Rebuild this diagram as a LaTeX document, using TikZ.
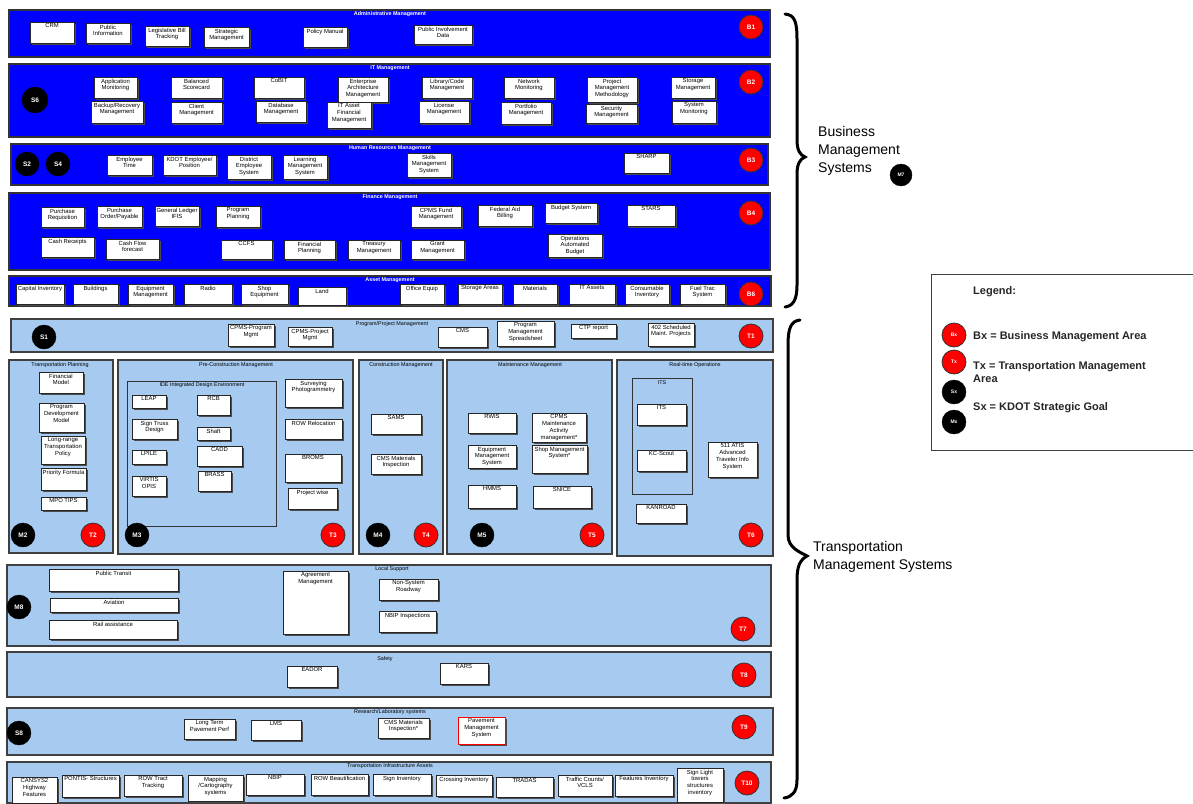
\documentclass[tikz,border=0pt]{standalone}
\usepackage{fontspec}
\setmainfont{Liberation Sans}
\definecolor{bbl}{RGB}{0,0,255}
\definecolor{lbl}{RGB}{166,202,240}
\definecolor{rd}{RGB}{255,0,0}
\tikzset{
 sbox/.style={draw=black!85, fill=white, line width=0.8pt, inner sep=0pt},
 rbox/.style={sbox, draw=red},
 shad/.style={fill=black!70},
 btxt/.style={font=\fontsize{5.9}{6.8}\selectfont, align=center, inner sep=2pt, anchor=north},
 bpanel/.style={draw=black!80, fill=bbl, line width=1.2pt},
 lpanel/.style={draw=black!75, fill=lbl, line width=1.2pt},
 gframe/.style={draw=black!80, line width=0.9pt},
 wtitle/.style={font=\fontsize{5.4}{6}\selectfont\bfseries, text=white, inner sep=0pt},
 ktitle/.style={font=\fontsize{5.4}{6}\selectfont, text=black, inner sep=0pt},
 rcirc/.style={circle, fill=rd, draw=black!80, line width=0.8pt, minimum size=24pt, inner sep=0pt,
   font=\fontsize{6.5}{7}\selectfont\bfseries, text=white},
 kcirc/.style={circle, fill=black, draw=black, minimum size=24pt, inner sep=0pt,
   font=\fontsize{6.5}{7}\selectfont\bfseries, text=white},
 bigtxt/.style={font=\fontsize{14}{18}\selectfont, align=left, anchor=west, inner sep=0pt},
 legtxt/.style={font=\fontsize{11}{13}\selectfont\bfseries, align=left, anchor=west, inner sep=0pt, text=black!85},
 bracepath/.style={line width=3pt, line cap=round},
}
\newcommand{\sysbox}[7][sbox]{%
 \fill[shad] ({#3+1.6},{#4+1.6}) rectangle ({#5+1.6},{#6+1.6});
 \node[#1, minimum width={#5-#3}, minimum height={#6-#4}] (#2) at ({(#3+#5)/2},{(#4+#6)/2}) {};
 \node[btxt] (#2t) at (#2.north) {#7};}
\begin{document}
\begin{tikzpicture}[x=1pt,y=-1pt]
\useasboundingbox (0,0) rectangle (1193,803);
% ---------------- Business rows
\draw[bpanel] (9,10) rectangle (770,57);
\node[wtitle] (tB1) at (390,14) {Administrative Management};
\draw[bpanel] (9,64) rectangle (770,137);
\node[wtitle] (tB2) at (390,68) {IT Management};
\draw[bpanel] (11,144) rectangle (768,185);
\node[wtitle] (tB3) at (390,148) {Human Resources Management};
\draw[bpanel] (9,193) rectangle (770,270);
\node[wtitle] (tB4) at (390,197) {Finance Management};
\draw[bpanel] (9,276) rectangle (771,306);
\node[wtitle] (tB6) at (390,280) {Asset Management};
% B1
\sysbox{crm}{30}{22}{74}{43}{CRM}
\sysbox{pinf}{86}{23}{130}{43}{Public\\Information}
\sysbox{lbt}{145}{26}{189}{46}{Legislative Bill\\Tracking}
\sysbox{stm}{204}{27}{249}{47}{Strategic\\Management}
\sysbox{polm}{303}{27}{347}{47}{Policy Manual}
\sysbox{pid}{414}{25}{472}{44}{Public Involvement\\Data}
% B2
\sysbox{appm}{94}{77}{137}{98}{Application\\Monitoring}
\sysbox{bkr}{91}{101}{143}{123}{Backup/Recovery\\Management}
\sysbox{bsc}{171}{77}{222}{98}{Balanced\\Scorecard}
\sysbox{clm}{171}{102}{222}{123}{Client\\Management}
\sysbox{cob}{254}{77}{304}{98}{CoBIT}
\sysbox{dbm}{256}{101}{306}{122}{Database\\Management}
\sysbox{eam}{338}{77}{388}{102}{Enterprise\\Architecture\\Management}
\sysbox{itaf}{327}{102}{371}{128}{IT Asset\\Financial\\Management}
\sysbox{lcm}{422}{77}{472}{98}{Library/Code\\Management}
\sysbox{licm}{419}{101}{469}{123}{License\\Management}
\sysbox{netm}{504}{77}{554}{98}{Network\\Monitoring}
\sysbox{pfm}{501}{102}{551}{124}{Portfolio\\Management}
\sysbox{pmm}{587}{77}{637}{102}{Project\\Management\\Methodology}
\sysbox{secm}{586}{104}{637}{123}{Security\\Management}
\sysbox{stgm}{671}{77}{715}{98}{Storage\\Management}
\sysbox{sysm}{672}{101}{716}{123}{System\\Monitoring}
% B3
\sysbox{empt}{107}{155}{152}{175}{Employee\\Time}
\sysbox{kep}{163}{155}{216}{175}{KDOT Employee/\\Position}
\sysbox{des}{227}{155}{271}{179}{District\\Employee\\System}
\sysbox{lms}{283}{155}{327}{179}{Learning\\Management\\System}
\sysbox{skm}{407}{153}{451}{177}{Skills\\Management\\System}
\sysbox{sharp}{624}{153}{669}{173}{SHARP}
% B4
\sysbox{preq}{41}{207}{84}{227}{Purchase\\Requisition}
\sysbox{pop}{97}{206}{142}{227}{Purchase\\Order/Payable}
\sysbox{gl}{155}{206}{199}{226}{General Ledger\\IFIS}
\sysbox{prp}{216}{206}{260}{227}{Program\\Planning}
\sysbox{cashr}{41}{237}{94}{257}{Cash Receipts}
\sysbox{cashf}{106}{239}{159}{259}{Cash Flow\\forecast}
\sysbox{ccfs}{221}{240}{272}{259}{CCFS}
\sysbox{finp}{284}{240}{335}{259}{Financial\\Planning}
\sysbox{trm}{348}{240}{400}{259}{Treasury\\Management}
\sysbox{grm}{411}{240}{464}{259}{Grant\\Management}
\sysbox{cpf}{411}{206}{461}{227}{CPMS Fund\\Management}
\sysbox{fab}{478}{205}{532}{226}{Federal Aid\\Billing}
\sysbox{bud}{545}{203}{597}{223}{Budget System}
\sysbox{stars}{627}{205}{675}{226}{STARS}
\sysbox{oab}{548}{234}{602}{257}{Operations\\Automated\\Budget}
% B6
\sysbox{capi}{16}{284}{64}{304}{Capital Inventory}
\sysbox{bldg}{73}{284}{118}{304}{Buildings}
\sysbox{eqm}{128}{284}{173}{304}{Equipment\\Management}
\sysbox{radio}{184}{284}{232}{304}{Radio}
\sysbox{shopeq}{241}{284}{288}{304}{Shop\\Equipment}
\sysbox{land}{298}{287}{346}{305}{Land}
\sysbox{offe}{400}{284}{444}{304}{Office Equip}
\sysbox{stoa}{458}{284}{502}{304}{Storage Areas}
\sysbox{mat}{513}{284}{557}{304}{Materials}
\sysbox{ita}{569}{284}{615}{304}{IT Assets}
\sysbox{coni}{625}{284}{669}{304}{Consumable\\Inventory}
\sysbox{fuel}{680}{284}{725}{304}{Fuel Trac\\System}
% ---------------- Transportation rows
\draw[lpanel] (11,319) rectangle (773,352);
\node[ktitle] (tT1) at (392,324) {Program/Project Management};
\draw[lpanel] (9,360) rectangle (113,553);
\node[ktitle] (tT2) at (60,365) {Transportation Planning};
\draw[lpanel] (118,360) rectangle (353,554);
\node[ktitle] (tT3) at (236,365) {Pre-Construction Management};
\draw[gframe] (127,381) rectangle (276,526);
\node[ktitle] (tIDE) at (202,385) {IDE Integrated Design Environment};
\draw[lpanel] (359,360) rectangle (443,554);
\node[ktitle] (tT4) at (401,365) {Construction Management};
\draw[lpanel] (447,360) rectangle (612,554);
\node[ktitle] (tT5) at (530,365) {Maintenance Management};
\draw[lpanel] (617,360) rectangle (773,556);
\node[ktitle] (tT6) at (695,365) {Real-time Operations};
\draw[gframe] (632,378) rectangle (692,494);
\node[ktitle] (tITS) at (662,383) {ITS};
\draw[lpanel] (7,565) rectangle (771,646);
\node[ktitle] (tT7) at (392,569) {Local Support};
\draw[lpanel] (7,652) rectangle (771,697);
\node[ktitle] (tT8) at (385,659) {Safety};
\draw[lpanel] (7,708) rectangle (773,755);
\node[ktitle] (tT9) at (390,712) {Research/Laboratory systems};
\draw[lpanel] (7,762) rectangle (771,803);
\node[ktitle] (tT10) at (390,766) {Transportation Infrastructure Assets};
% T1
\sysbox{cpprog}{228}{324}{274}{346}{CPMS-Program\\Mgmt}
\sysbox{cpproj}{288}{327}{332}{346}{CPMS-Project\\Mgmt}
\sysbox{cms}{438}{327}{487}{347}{CMS}
\sysbox{pms}{497}{321}{554}{346}{Program\\Management\\Spreadsheet}
\sysbox{ctp}{571}{324}{616}{338}{CTP report}
\sysbox{sched}{648}{323}{694}{346}{402 Scheduled\\Maint. Projects}
% Transportation planning
\sysbox{finmod}{39}{372}{83}{393}{Financial\\Model}
\sysbox{pdm}{39}{403}{84}{432}{Program\\Development\\Model}
\sysbox{lrtp}{41}{436}{85}{464}{Long-range\\Transportation\\Policy}
\sysbox{prif}{41}{468}{86}{490}{Priority Formula}
\sysbox{mpo}{41}{497}{86}{510}{MPO TIPS}
% Pre-construction
\sysbox{leap}{132}{395}{166}{408}{LEAP}
\sysbox{sign}{132}{419}{177}{439}{Sign Truss\\Design}
\sysbox{lpile}{132}{450}{166}{464}{LPILE}
\sysbox{virt}{132}{476}{166}{496}{VIRTIS\\OPIS}
\sysbox{rcb}{197}{395}{230}{415}{RCB}
\sysbox{shaft}{197}{427}{230}{440}{Shaft}
\sysbox{cadd}{197}{446}{242}{466}{CADD}
\sysbox{brass}{198}{471}{231}{491}{BRASS}
\sysbox{surv}{285}{379}{342}{407}{Surveying\\Photogrammetry}
\sysbox{rowr}{285}{419}{342}{439}{ROW Relocation}
\sysbox{broms}{285}{454}{341}{482}{BROMS}
\sysbox{pwise}{288}{488}{337}{509}{Project wise}
% Construction
\sysbox{sams}{371}{414}{421}{434}{SAMS}
\sysbox{cmsmi}{371}{454}{421}{474}{CMS Materials\\Inspection}
% Maintenance
\sysbox{rwis}{468}{413}{516}{433}{RWIS}
\sysbox{cpmsma}{532}{413}{586}{442}{CPMS\\Maintenance\\Activity\\management*}
\sysbox{ems}{468}{445}{516}{468}{Equipment\\Management\\System}
\sysbox{shopm}{532}{445}{587}{473}{Shop Management\\System*}
\sysbox{hmms}{468}{485}{516}{508}{HMMS}
\sysbox{snice}{533}{486}{591}{508}{SNICE}
% Real-time
\sysbox{its}{637}{404}{686}{425}{ITS}
\sysbox{kcs}{637}{450}{686}{471}{KC-Scout}
\sysbox{kanr}{636}{504}{686}{523}{KANROAD}
\sysbox{atis}{708}{442}{757}{477}{511 ATIS\\Advanced\\Traveler Info\\System}
% Local support
\sysbox{ptr}{49}{569}{178}{591}{Public Transit}
\sysbox{avi}{50}{598}{178}{612}{Aviation}
\sysbox{rail}{49}{620}{177}{639}{Rail assistance}
\sysbox{agm}{283}{571}{348}{634}{Agreement\\Management}
\sysbox{nsr}{379}{579}{438}{600}{Non-System\\Roadway}
\sysbox{nbipi}{379}{611}{436}{632}{NBIP Inspections}
% Safety
\sysbox{eador}{287}{666}{337}{687}{EADOR}
\sysbox{kars}{440}{663}{488}{684}{KARS}
% Research
\sysbox{ltpp}{184}{719}{235}{739}{Long Term\\Pavement Perf}
\sysbox{lmsr}{251}{720}{301}{740}{LMS}
\sysbox{cmsr}{378}{718}{429}{738}{CMS Materials\\Inspection*}
\sysbox[rbox]{pavm}{458}{717}{505}{744}{Pavement\\Management\\System}
% Assets
\sysbox{cansys}{12}{777}{57}{803}{CANSYS2\\Highway\\Features}
\sysbox{pontis}{62}{775}{119}{797}{PONTIS- Structures}
\sysbox{rowt}{124}{775}{182}{796}{ROW Tract\\Tracking}
\sysbox{mapc}{188}{775}{243}{801}{Mapping\\/Cartography\\systems}
\sysbox{nbip}{246}{774}{304}{795}{NBIP}
\sysbox{rowb}{311}{774}{368}{795}{ROW Beautification}
\sysbox{signi}{373}{774}{431}{795}{Sign Inventory}
\sysbox{crossi}{436}{775}{492}{796}{Crossing Inventory}
\sysbox{tradas}{496}{777}{553}{797}{TRADAS}
\sysbox{tcv}{558}{775}{612}{796}{Traffic Counts/\\VCLS}
\sysbox{feati}{615}{775}{673}{796}{Features Inventory}
\sysbox{slt}{677}{768}{723}{802}{Sign Light\\towers\\structures\\inventory}
% ---------------- circles
\node[rcirc] (B1) at (751,27) {B1};
\node[rcirc] (B2) at (751,82) {B2};
\node[rcirc] (B3) at (751,160) {B3};
\node[rcirc] (B4) at (751,213) {B4};
\node[rcirc] (B6) at (751,294) {B6};
\node[rcirc] (T1) at (751,336) {T1};
\node[rcirc] (T2) at (93,535) {T2};
\node[rcirc] (T3) at (333,535) {T3};
\node[rcirc] (T4) at (426,535) {T4};
\node[rcirc] (T5) at (592,535) {T5};
\node[rcirc] (T6) at (751,535) {T6};
\node[rcirc] (T7) at (743,629) {T7};
\node[rcirc] (T8) at (744,675) {T8};
\node[rcirc] (T9) at (744,727) {T9};
\node[rcirc] (T10) at (747,783) {T10};
\node[kcirc, minimum size=26pt] (S6) at (35,100) {S6};
\node[kcirc] (S2) at (27,164) {S2};
\node[kcirc] (S4) at (58,164) {S4};
\node[kcirc] (S1) at (44,337) {S1};
\node[kcirc] (M2) at (23,535) {M2};
\node[kcirc] (M3) at (137,535) {M3};
\node[kcirc] (M4) at (378,535) {M4};
\node[kcirc] (M5) at (482,535) {M5};
\node[kcirc] (M8) at (19,607) {M8};
\node[kcirc] (S8) at (19,733) {S8};
\node[kcirc, minimum size=22pt, font=\fontsize{5}{6}\selectfont\bfseries] (M7) at (901,175) {M7};
% ---------------- braces and labels
\draw[bracepath] (785,14) .. controls (795,15) and (797,22) .. (797,40) -- (797,140)
  .. controls (797,150) and (800,155) .. (805,157) .. controls (800,159) and (797,164) .. (797,174)
  -- (797,285) .. controls (797,300) and (793,306) .. (785,307);
\draw[bracepath] (800,320) .. controls (791,321) and (788,328) .. (788,345) -- (788,535)
  .. controls (788,548) and (800,552) .. (807,556) .. controls (800,560) and (797,566) .. (797,580)
  -- (797,780) .. controls (797,792) and (792,797) .. (784,798);
\node[bigtxt] (bms) at (818,151) {Business\\Management\\Systems};
\node[bigtxt] (tms) at (813,557) {Transportation\\Management Systems};
% ---------------- legend
\draw[line width=1pt, draw=black!75] (1193,274) -- (931,274) -- (931,450) -- (1193,450);
\node[legtxt] (legh) at (973,292) {Legend:};
\node[rcirc, font=\fontsize{5}{6}\selectfont\bfseries] (LB) at (954,335) {Bx};
\node[rcirc, font=\fontsize{5}{6}\selectfont\bfseries] (LT) at (954,362) {Tx};
\node[kcirc, font=\fontsize{5}{6}\selectfont\bfseries] (LS) at (954,392) {Sx};
\node[kcirc, font=\fontsize{5}{6}\selectfont\bfseries] (LM) at (954,422) {Mx};
\node[legtxt] (legb) at (973,337) {Bx = Business Management Area};
\node[legtxt] (legt) at (973,372.5) {Tx = Transportation Management\\Area};
\node[legtxt] (legs) at (973,408) {Sx = KDOT Strategic Goal};
\end{tikzpicture}
\end{document}
